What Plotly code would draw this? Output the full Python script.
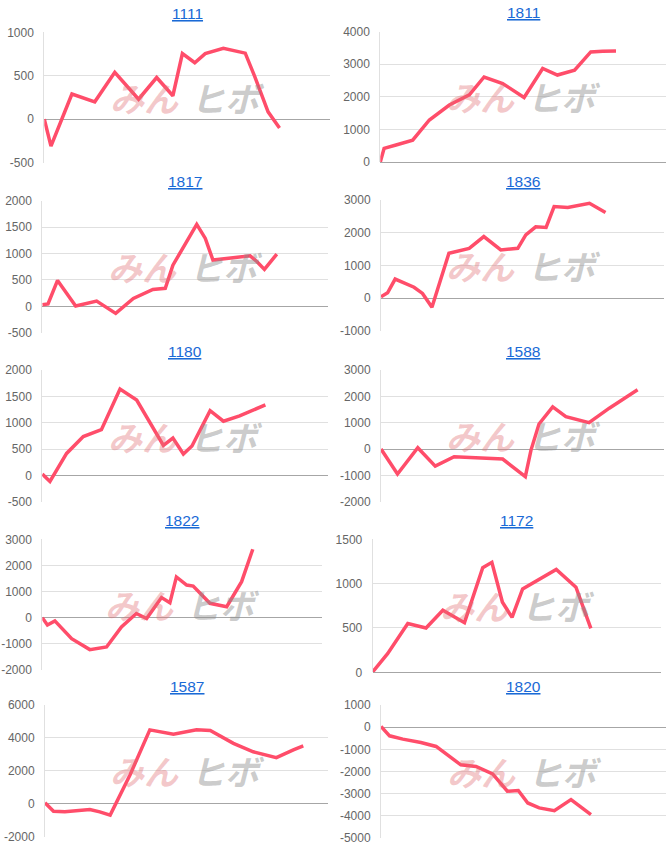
import plotly.graph_objects as go

W, H = 672, 846

titles = ["1111", "1811", "1817", "1836", "1180", "1588", "1822", "1172", "1587", "1820"]

days_1111 = [0, 0.7, 2.9, 5.3, 7.4, 9.9, 11.8, 13.5, 14.5, 15.8, 16.9, 18.8, 21.1, 22.1, 23.5, 24.7]
vals_1111 = [0, -310, 290, 200, 540, 230, 480, 270, 755, 650, 755, 815, 760, 490, 85, -100]

days_1811 = [0, 0.4, 1.65, 3.4, 5.15, 7.25, 9.35, 10.9, 12.85, 15.1, 17.05, 18.6, 20.4, 22.1, 23.35, 24.75]
vals_1811 = [0, 420, 520, 670, 1290, 1750, 2060, 2610, 2410, 1980, 2870, 2670, 2820, 3380, 3400, 3410]

days_1817 = [0, 0.6, 1.6, 3.5, 5.7, 7.7, 9.55, 11.6, 12.9, 13.7, 16.2, 17.1, 17.9, 20.0, 21.8, 22.5, 23.3, 24.6]
vals_1817 = [30, 45, 490, 5, 100, -135, 150, 320, 340, 780, 1550, 1285, 875, 910, 955, 850, 700, 990]

days_1836 = [0, 0.7, 1.5, 3.5, 4.4, 5.4, 7.2, 8.5, 9.35, 10.9, 12.7, 14.5, 15.35, 16.4, 17.5, 18.35, 19.8, 22.1, 23.8]
vals_1836 = [40, 160, 580, 330, 140, -285, 1370, 1450, 1520, 1880, 1470, 1520, 1930, 2180, 2160, 2800, 2770, 2900, 2620]

days_1180 = [0, 0.8, 2.55, 4.3, 6.2, 8.15, 9.9, 12.7, 13.7, 14.8, 15.7, 17.6, 19.0, 20.7, 23.4]
vals_1180 = [30, -110, 420, 740, 870, 1640, 1430, 570, 710, 410, 560, 1230, 1030, 1130, 1340]

days_1588 = [0, 1.75, 3.9, 5.75, 7.75, 10.4, 12.9, 15.3, 15.9, 16.75, 18.2, 19.6, 22.05, 24.2, 27.2]
vals_1588 = [0, -950, 50, -650, -290, -350, -380, -1050, -40, 950, 1600, 1230, 1000, 1550, 2250]

days_1822 = [0, 0.55, 1.35, 3.15, 5.1, 6.9, 8.5, 10.1, 11.2, 12.8, 13.7, 14.4, 15.5, 16.2, 18.0, 19.8, 21.4, 22.6]
vals_1822 = [0, -280, -120, -800, -1220, -1120, -350, 160, -30, 770, 570, 1560, 1250, 1210, 550, 420, 1380, 2620]

days_1172 = [0, 1.55, 3.65, 5.55, 7.3, 9.55, 11.45, 12.4, 13.5, 14.5, 15.6, 17.0, 19.1, 21.15, 22.7]
vals_1172 = [5, 210, 550, 500, 700, 560, 1180, 1240, 790, 620, 940, 1030, 1160, 960, 495]

days_1587 = [0, 0.9, 2.1, 3.7, 4.75, 5.8, 6.9, 9.0, 11.1, 13.6, 16.05, 17.5, 19.95, 22.05, 24.5, 26.3, 27.35]
vals_1587 = [60, -450, -490, -390, -350, -490, -690, 1750, 4490, 4220, 4490, 4450, 3670, 3160, 2800, 3270, 3510]

days_1820 = [0, 0.9, 2.3, 4.2, 5.8, 7.2, 8.4, 10.0, 11.75, 13.3, 14.45, 15.45, 16.65, 18.25, 20.0, 22.1]
vals_1820 = [30, -390, -540, -690, -870, -1320, -1700, -1770, -2110, -2890, -2860, -3420, -3640, -3770, -3270, -3950]

days = [days_1111, days_1811, days_1817, days_1836, days_1180, days_1588, days_1822, days_1172, days_1587, days_1820]
vals = [vals_1111, vals_1811, vals_1817, vals_1836, vals_1180, vals_1588, vals_1822, vals_1172, vals_1587, vals_1820]

# y-axis tick values per panel (labels use an ASCII hyphen, as in the reference)
y_ticks = [
    [-500, 0, 500, 1000],
    [0, 1000, 2000, 3000, 4000],
    [-500, 0, 500, 1000, 1500, 2000],
    [-1000, 0, 1000, 2000, 3000],
    [-500, 0, 500, 1000, 1500, 2000],
    [-2000, -1000, 0, 1000, 2000, 3000],
    [-2000, -1000, 0, 1000, 2000, 3000],
    [0, 500, 1000, 1500],
    [-2000, 0, 2000, 4000, 6000],
    [-5000, -4000, -3000, -2000, -1000, 0, 1000],
]
x_span = 30

# plot-area boxes in pixels: (left, right, top, bottom)
boxes = [
    (44.3, 330, 32.3, 162.7), (380.3, 666, 31.7, 162),
    (42.3, 328.3, 200.7, 332.7), (381, 664, 200, 330.7),
    (42.3, 328.3, 370, 502), (381, 664, 370, 501.7),
    (42.3, 321.7, 539.3, 670), (372.7, 661, 539.3, 672.3),
    (45, 328.3, 705, 836.7), (381, 666, 705, 838),
]

LINE = "#ff4d6a"
fig = go.Figure()
annotations = []
for i in range(10):
    n = i + 1
    xa = "x" if n == 1 else f"x{n}"
    ya = "y" if n == 1 else f"y{n}"
    fig.add_trace(go.Scatter(x=days[i], y=vals[i], mode="lines",
                             line=dict(color=LINE, width=3.5),
                             xaxis=xa, yaxis=ya, showlegend=False, hoverinfo="skip"))
    l, r, t, b = boxes[i]
    tv = y_ticks[i]
    fig.layout[f"xaxis{'' if n == 1 else n}"] = dict(
        domain=[l / W, r / W], range=[0, x_span], showticklabels=False, automargin=False,
        showgrid=False, zeroline=False, showline=False, anchor=ya, fixedrange=True)
    fig.layout[f"yaxis{'' if n == 1 else n}"] = dict(
        domain=[1 - b / H, 1 - t / H], range=[min(tv), max(tv)],
        tickmode="array", tickvals=tv, ticktext=[str(v) for v in tv],
        automargin=False,
        showgrid=True, gridcolor="#e0e0e0", gridwidth=1,
        zeroline=True, zerolinecolor="#a6a6a6", zerolinewidth=1,
        showline=True, linecolor="#e0e0e0", linewidth=1,
        ticks="outside", ticklen=7, tickcolor="rgba(0,0,0,0)",
        tickfont=dict(family="Arial, Liberation Sans", size=12, color="#666666"),
        anchor=xa, fixedrange=True)
    cx = (l + r) / 2
    annotations.append(dict(text=f"<u>{titles[i]}</u>", x=cx / W, y=1 - (t - 19) / H,
                            xref="paper", yref="paper", showarrow=False,
                            font=dict(family="Arial, Liberation Sans", size=15.5, color="#1a6ad6"),
                            xanchor="center", yanchor="middle"))
    cy = (t + b) / 2
    annotations.append(dict(text="<b><i>みん</i></b>", x=(cx - 6) / W, y=1 - cy / H,
                            xref="paper", yref="paper", showarrow=False, xanchor="right", yanchor="middle",
                            font=dict(family="Noto Sans CJK JP", size=34, color="rgba(225,110,115,0.38)")))
    annotations.append(dict(text="<b><i>ヒボ</i></b>", x=(cx + 2) / W, y=1 - cy / H,
                            xref="paper", yref="paper", showarrow=False, xanchor="left", yanchor="middle",
                            font=dict(family="Noto Sans CJK JP", size=34, color="rgba(140,140,140,0.45)")))

fig.update_layout(width=W, height=H, margin=dict(l=0, r=0, t=0, b=0),
                  paper_bgcolor="white", plot_bgcolor="white",
                  annotations=annotations, showlegend=False)
fig.write_html("out.html",
               post_script="document.body.style.margin='0';document.body.style.overflow='hidden';")
